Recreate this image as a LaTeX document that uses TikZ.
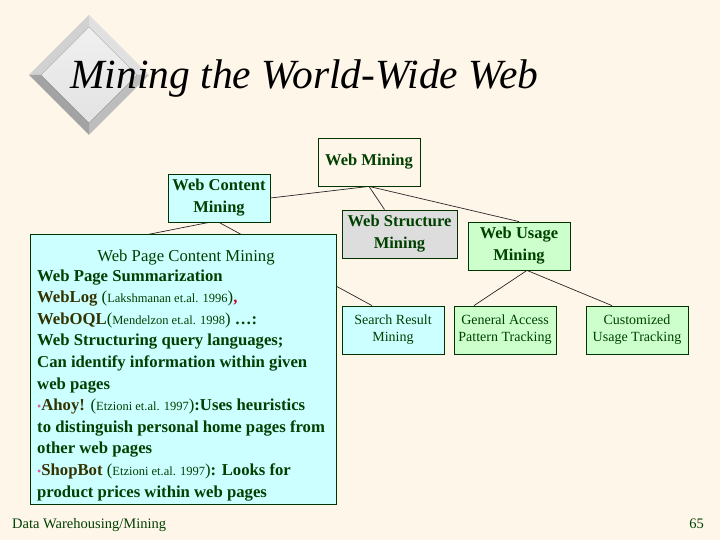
\documentclass[tikz,border=0pt]{standalone}
\usepackage{fontspec}
\setmainfont{Liberation Serif}
\usetikzlibrary{calc}
\definecolor{bgc}{RGB}{255,246,234}
\definecolor{dkgreen}{RGB}{0,64,0}
\definecolor{boxline}{RGB}{0,51,0}
\definecolor{cyanf}{RGB}{204,255,255}
\definecolor{greyf}{RGB}{221,221,221}
\definecolor{greenf}{RGB}{204,255,204}
\definecolor{olivec}{RGB}{51,51,0}
\definecolor{pinkb}{RGB}{214,102,153}
\definecolor{redc}{RGB}{204,0,51}
\pgfdeclarelayer{bgl}
\pgfdeclarelayer{linel}
\pgfsetlayers{bgl,linel,main}
\newcommand{\topfont}{\fontsize{16.5}{22}\selectfont\bfseries}
\newcommand{\smallfont}{\fontsize{14}{17}\selectfont}
\newcommand{\bodyfont}{\fontsize{16.7}{21.6}\selectfont\bfseries}
\newcommand{\refsm}[1]{{\mdseries\fontsize{12.5}{15}\selectfont #1}}
\newcommand{\olv}[1]{{\color{olivec}#1}}
\newcommand{\pbul}{{\color{pinkb}\mdseries\fontsize{12}{15}\selectfont\textbullet}}
\tikzset{
  boxnode/.style={draw=boxline, line width=0.8pt, minimum width=102pt, minimum height=48pt,
    inner sep=2pt, align=center, text=dkgreen, font=\topfont},
  smallbox/.style={boxnode, font=\smallfont},
  conn/.style={draw=black!85, line width=0.7pt}
}
\begin{document}
\begin{tikzpicture}[x=1pt,y=-1pt]
\useasboundingbox (0,0) rectangle (720,540);
\begin{pgfonlayer}{bgl}
\fill[bgc] (0,0) rectangle (720,540);
\end{pgfonlayer}

% decorative bevelled diamond
\fill[black!18] (29,75) -- (89,15) -- (89,27) -- (41,75) -- cycle;
\fill[black!12] (89,15) -- (149,75) -- (137,75) -- (89,27) -- cycle;
\fill[black!26] (149,75) -- (89,135) -- (89,123) -- (137,75) -- cycle;
\fill[black!36] (89,135) -- (29,75) -- (41,75) -- (89,123) -- cycle;
\fill[top color=black!6, bottom color=black!11] (89,27) -- (137,75) -- (89,123) -- (41,75) -- cycle;

\node[anchor=base west, font=\fontsize{41.5}{48}\selectfont\itshape, inner sep=0] (title) at (70,89) {Mining the World-Wide Web};

% tree nodes
\node[boxnode] (wm) at (369,162) {Web Mining};
\node[boxnode, fill=cyanf] (wcm) at (219,198) {Web Content\\Mining};
\node[boxnode, fill=greyf, minimum width=115pt] (wsm) at (399.5,234) {Web Structure\\Mining};
\node[boxnode, fill=greenf] (wum) at (519,246) {Web Usage\\Mining};
\node[smallbox, fill=cyanf] (srm) at (393,330) {Search Result\\Mining};
\node[smallbox, fill=greenf] (gap) at (505,330) {General Access\\Pattern Tracking};
\node[smallbox, fill=greenf] (cut) at (637,330) {Customized\\Usage Tracking};

% big content box
\node[draw=boxline, line width=0.8pt, fill=cyanf, minimum width=306pt, minimum height=270pt,
      anchor=north west, inner sep=0] (pcm) at (30,234) {};
\node[anchor=base, font=\fontsize{16.7}{20}\selectfont, text=dkgreen, inner sep=0] (pcmhead) at (186,261) {Web Page Content Mining};
\node[anchor=base west, align=left, font=\bodyfont, text=dkgreen, inner sep=0] (pcmtext) at (37,497) {%
Web Page Summarization\\
\olv{WebLog} {\mdseries(}\refsm{Lakshmanan et.al. 1996}{\mdseries)}{\color{redc},}\\
\olv{WebOQL}{\mdseries(}\refsm{Mendelzon et.al. 1998}{\mdseries)} …:\\
Web Structuring query languages;\\
Can identify information within given\\
web pages\\
\pbul\olv{Ahoy!} {\mdseries(}\refsm{Etzioni et.al. 1997}{\mdseries)}:Uses heuristics\\
to distinguish personal home pages from\\
other web pages\\
\pbul\olv{ShopBot} {\mdseries(}\refsm{Etzioni et.al. 1997}{\mdseries)}: Looks for\\
product prices within web pages};

% connectors
\coordinate (hid) at (120,240);
\begin{pgfonlayer}{linel}
\draw[conn] (wm.south) -- (wcm.east);
\draw[conn] (wm.south) -- ($(wsm.north)+(-15,0)$);
\draw[conn] (wm.south) -- (wum.north);
\draw[conn] ($(wum.south)+(8,0)$) -- ($(gap.north)+(-31,0)$);
\draw[conn] ($(wum.south)+(8,0)$) -- ($(cut.north)+(-25,0)$);
\draw[conn] (wcm.south) -- ($(srm.north)+(-21,0)$);
\draw[conn] ($(wcm.south)+(-10,0)$) -- (hid);
\end{pgfonlayer}

% footer
\node[anchor=base west, font=\fontsize{14.5}{16}\selectfont, text=dkgreen, inner sep=0] (foot) at (12,528) {Data Warehousing/Mining};
\node[anchor=base east, font=\fontsize{14.5}{16}\selectfont, text=dkgreen, inner sep=0] (pagenum) at (704,528) {65};
\end{tikzpicture}
\end{document}
